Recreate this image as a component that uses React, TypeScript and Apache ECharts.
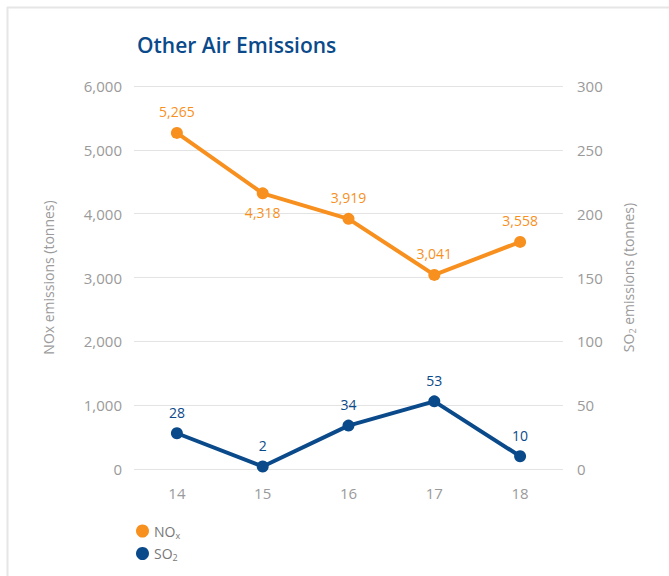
import React, { useEffect, useRef } from "react";
import * as echarts from "echarts";

const categories = ["14", "15", "16", "17", "18"];
const noxValues = [5265, 4318, 3919, 3041, 3558];
const so2Values = [28, 2, 34, 53, 10];
const leftTicks = [0, 1000, 2000, 3000, 4000, 5000, 6000];
const rightTicks = [0, 50, 100, 150, 200, 250, 300];

const ORANGE = "#f7901e";
const BLUE = "#0b4a8a";
const GRAY = "#9a9a9a";
const FONT = "Open Sans";

export default function App() {
  const ref = useRef<HTMLDivElement>(null);
  useEffect(() => {
    if (!ref.current) return;
    const chart = echarts.init(ref.current, null, { renderer: "svg" });
    const fmt = (v: number) => v.toLocaleString("en-US");
    chart.setOption({
      animation: false,
      backgroundColor: "#ffffff",
      textStyle: { fontFamily: FONT },
      title: {
        text: "Other Air Emissions",
        left: 132,
        top: 29,
        textStyle: { color: BLUE, fontSize: 21, fontWeight: 600, fontFamily: FONT },
      },
      graphic: [
        { type: "line", shape: { x1: 7, y1: 7.5, x2: 669, y2: 7.5 }, style: { stroke: "#e6e6e6", lineWidth: 2 } },
        { type: "line", shape: { x1: 7.5, y1: 7, x2: 7.5, y2: 576 }, style: { stroke: "#e6e6e6", lineWidth: 2 } },
      ],
      legend: {
        orient: "vertical",
        left: 131,
        top: 519,
        icon: "circle",
        itemWidth: 13,
        itemHeight: 13,
        itemGap: 7,
        data: ["NOx", "SO2"],
        formatter: (name: string) => (name === "NOx" ? "NO{sub|x}" : "SO{sub|2}"),
        textStyle: {
          color: "#777777",
          fontSize: 14,
          fontFamily: FONT,
          rich: { sub: { fontSize: 9, verticalAlign: "bottom", padding: [8, 0, 0, 0], color: "#777777" } },
        },
      },
      grid: { left: 134, right: 106, top: 86, bottom: 107 },
      xAxis: {
        type: "category",
        data: categories,
        boundaryGap: true,
        axisLine: { show: false },
        axisTick: { show: false },
        axisLabel: { color: GRAY, fontSize: 15, margin: 16, fontFamily: FONT },
      },
      yAxis: [
        {
          type: "value",
          min: 0,
          max: 6000,
          interval: 1000,
          name: "NOx emissions (tonnes)",
          nameLocation: "middle",
          nameGap: 79,
          nameRotate: 90,
          nameTextStyle: { color: GRAY, fontSize: 14, fontFamily: FONT },
          axisLine: { show: false },
          axisTick: { show: false },
          axisLabel: {
            color: GRAY,
            fontSize: 15,
            margin: 12,
            fontFamily: FONT,
            formatter: (v: number) => (leftTicks.includes(v) ? fmt(v) : ""),
          },
          splitLine: { lineStyle: { color: "#e3e3e3", width: 1 } },
        },
        {
          type: "value",
          min: 0,
          max: 300,
          interval: 50,
          name: "SO{sub|2} emissions (tonnes)",
          nameLocation: "middle",
          nameGap: 57,
          nameRotate: 90,
          nameTextStyle: {
            color: GRAY,
            fontSize: 14,
            fontFamily: FONT,
            rich: { sub: { fontSize: 9, color: GRAY, verticalAlign: "bottom", padding: [8, 0, 0, 0] } },
          },
          axisLine: { show: false },
          axisTick: { show: false },
          axisLabel: {
            color: GRAY,
            fontSize: 15,
            margin: 14,
            fontFamily: FONT,
            formatter: (v: number) => (rightTicks.includes(v) ? String(v) : ""),
          },
          splitLine: { show: false },
        },
      ],
      series: [
        {
          name: "NOx",
          type: "line",
          yAxisIndex: 0,
          data: noxValues,
          color: ORANGE,
          symbol: "circle",
          symbolSize: 12,
          lineStyle: { width: 4, color: ORANGE },
          itemStyle: { color: ORANGE },
          label: {
            show: true,
            color: ORANGE,
            fontSize: 14,
            fontFamily: FONT,
            distance: 8,
            formatter: (p: any) => fmt(p.value),
            position: "top",
          },
          labelLayout: (p: any) => (p.dataIndex === 1 ? { dy: 40 } : {}),
        },
        {
          name: "SO2",
          type: "line",
          yAxisIndex: 1,
          data: so2Values,
          color: BLUE,
          symbol: "circle",
          symbolSize: 12,
          lineStyle: { width: 4, color: BLUE },
          itemStyle: { color: BLUE },
          label: {
            show: true,
            color: BLUE,
            fontSize: 14,
            fontFamily: FONT,
            distance: 8,
            position: "top",
          },
        },
      ],
    });
    return () => chart.dispose();
  }, []);
  return (
    <div
      ref={ref}
      style={{ position: "fixed", left: 0, top: 0, width: 669, height: 576 }}
    />
  );
}
